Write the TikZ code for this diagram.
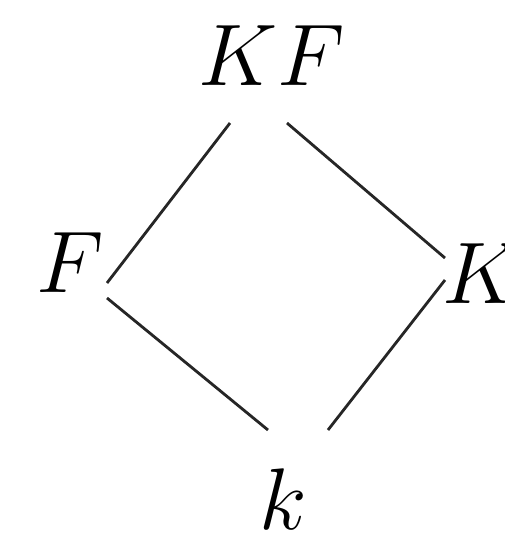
\documentclass[tikz,border=0pt]{standalone}
\usepackage{tikz}
\tikzset{
  fld/.style={inner sep=0pt, anchor=base, font=\fontsize{23}{27}\selectfont},
  ext/.style={line width=0.8pt, color=black!85},
}

\begin{document}
\begin{tikzpicture}[x=0.01cm, y=-0.01cm]
    \useasboundingbox (0,0) rectangle (505,535);
    \node[fld] (kf) at (272,85) {$KF$};
    \node[fld] (f) at (70,292) {$F$};
    \node[fld] (k) at (482,303) {$K$};
    \node[fld] (b) at (283,529) {$k$};
    \draw[ext] ([shift={(-42,38)}]kf.base) -- ([shift={(37,-9)}]f.base);
    \draw[ext] ([shift={(15,38)}]kf.base) -- ([shift={(-37,-45)}]k.base);
    \draw[ext] ([shift={(37,6)}]f.base) -- ([shift={(-15,-99)}]b.base);
    \draw[ext] ([shift={(-37,-23)}]k.base) -- ([shift={(45,-99)}]b.base);
  \end{tikzpicture}
\end{document}
